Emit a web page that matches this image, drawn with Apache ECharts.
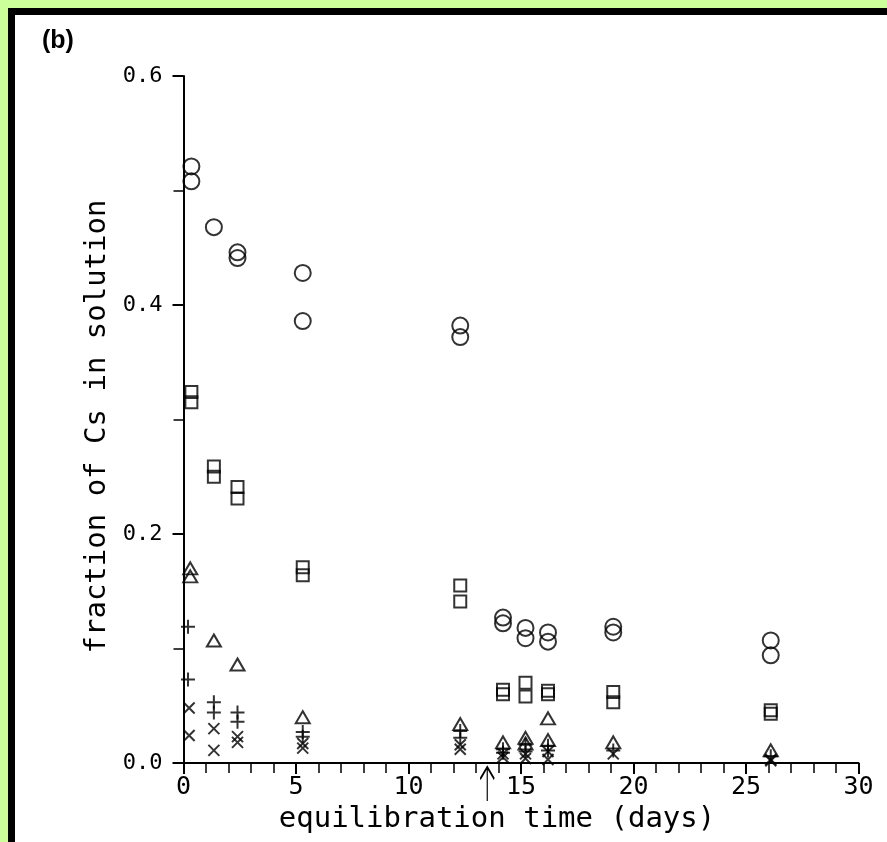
<!DOCTYPE html>
<html>
<head>
<meta charset="utf-8">
<script src="https://cdn.jsdelivr.net/npm/echarts@6/dist/echarts.min.js"></script>
<style>
  html, body { margin: 0; padding: 0; background: #ccff99; }
  #frame {
    position: absolute; left: 8px; top: 8px; width: 872px; height: 827px;
    border-left: 7px solid #000; border-top: 7px solid #000; background: #fff;
  }
  #chart { position: absolute; left: 0; top: 0; width: 887px; height: 842px; }
</style>
</head>
<body>
<div id="frame"></div>
<div id="chart"></div>
<script>
// equilibration time (days) and fraction of Cs in solution, per symbol
const circleDays = [0.35, 0.35, 1.35, 2.4, 2.4, 5.3, 5.3, 12.3, 12.3, 14.2, 14.2, 15.2, 15.2, 16.2, 16.2, 19.1, 19.1, 26.1, 26.1]
const circleVals = [0.521, 0.508, 0.468, 0.446, 0.441, 0.428, 0.386, 0.382, 0.372, 0.127, 0.122, 0.118, 0.109, 0.114, 0.106, 0.119, 0.114, 0.107, 0.094]

const squareDays = [0.35, 0.35, 1.35, 1.35, 2.4, 2.4, 5.3, 5.3, 12.3, 12.3, 14.2, 14.2, 15.2, 15.2, 16.2, 16.2, 19.1, 19.1, 26.1, 26.1]
const squareVals = [0.324, 0.315, 0.259, 0.250, 0.241, 0.231, 0.171, 0.164, 0.155, 0.141, 0.064, 0.060, 0.070, 0.058, 0.063, 0.060, 0.062, 0.053, 0.046, 0.043]

const triangleDays = [0.3, 0.3, 1.35, 2.4, 5.3, 12.3, 14.2, 15.2, 15.2, 16.2, 16.2, 19.1, 26.1]
const triangleVals = [0.170, 0.163, 0.107, 0.086, 0.040, 0.034, 0.018, 0.022, 0.017, 0.039, 0.020, 0.018, 0.011]

const plusDays = [0.2, 0.2, 1.35, 1.35, 2.4, 2.4, 5.3, 5.3, 12.3, 12.3, 14.2, 14.2, 15.2, 15.2, 16.2, 16.2, 19.1, 26.1]
const plusVals = [0.119, 0.073, 0.053, 0.044, 0.044, 0.036, 0.027, 0.023, 0.028, 0.022, 0.012, 0.009, 0.016, 0.010, 0.015, 0.011, 0.011, 0.006]

const crossDays = [0.25, 0.25, 1.35, 1.35, 2.4, 2.4, 5.3, 5.3, 12.3, 12.3, 14.2, 14.2, 15.2, 15.2, 16.2, 16.2, 19.1, 26.1, 26.1]
const crossVals = [0.048, 0.024, 0.030, 0.011, 0.023, 0.018, 0.017, 0.013, 0.016, 0.012, 0.008, 0.005, 0.008, 0.004, 0.010, 0.003, 0.008, 0.003, 0.002]

// arrow under the time axis
const arrowDay = 13.5

const MONO = "'DejaVu Sans Mono', monospace"

const zip = (xs, ys) => xs.map((x, i) => [x, ys[i]])

const hollow = { color: 'rgba(0,0,0,0)', borderColor: '#000', borderWidth: 2 }

const chart = echarts.init(document.getElementById('chart'))

chart.setOption({
  backgroundColor: 'transparent',
  animation: false,
  title: {
    text: '(b)',
    left: 37,
    top: 24,
    textStyle: { fontFamily: 'Liberation Sans', fontWeight: 'bold', fontSize: 25, color: '#000' }
  },
  grid: { left: 183.5, right: 28.5, top: 76, bottom: 79 },
  xAxis: {
    type: 'value',
    min: 0,
    max: 30,
    interval: 5,
    name: 'equilibration time (days)',
    nameLocation: 'middle',
    nameGap: 40,
    nameTextStyle: { fontFamily: MONO, fontSize: 29, color: '#000', padding: [0, 48, 0, 0] },
    axisLine: { onZero: false, lineStyle: { color: '#000', width: 2 } },
    axisTick: { length: 11, lineStyle: { color: '#000', width: 2 } },
    minorTick: { show: true, splitNumber: 5, length: 10, lineStyle: { color: '#000', width: 1.5 } },
    splitLine: { show: false },
    axisLabel: { fontFamily: MONO, fontSize: 25, color: '#000', margin: 12 }
  },
  yAxis: {
    type: 'value',
    min: 0,
    max: 0.6,
    interval: 0.2,
    name: 'fraction of Cs in solution',
    nameLocation: 'middle',
    nameGap: 70,
    nameTextStyle: { fontFamily: MONO, fontSize: 29, color: '#000', padding: [0, 14, 0, 0] },
    axisLine: { lineStyle: { color: '#000', width: 2 } },
    axisTick: { length: 11, lineStyle: { color: '#000', width: 2 } },
    minorTick: { show: true, splitNumber: 2, length: 10, lineStyle: { color: '#000', width: 1.5 } },
    splitLine: { show: false },
    axisLabel: {
      fontFamily: MONO, fontSize: 22, color: '#000', margin: 21,
      formatter: (v) => v.toFixed(1)
    }
  },
  series: [
    {
      name: 'circle', type: 'scatter', symbol: 'circle', symbolSize: 16,
      itemStyle: hollow, data: zip(circleDays, circleVals)
    },
    {
      name: 'square', type: 'scatter', symbol: 'rect', symbolSize: 12,
      itemStyle: hollow, data: zip(squareDays, squareVals)
    },
    {
      name: 'triangle', type: 'scatter', symbol: 'triangle', symbolSize: [14, 12],
      itemStyle: hollow, data: zip(triangleDays, triangleVals)
    },
    {
      name: 'plus', type: 'scatter', symbol: 'path://M0,5L10,5M5,0L5,10', symbolSize: 14,
      itemStyle: { color: 'none', borderColor: '#000', borderWidth: 2 },
      data: zip(plusDays, plusVals)
    },
    {
      name: 'cross', type: 'scatter', symbol: 'path://M0,0L10,10M10,0L0,10', symbolSize: 11,
      itemStyle: { color: 'none', borderColor: '#000', borderWidth: 2 },
      data: zip(crossDays, crossVals),
      markPoint: {
        silent: true,
        symbol: 'path://M6,0L6,34M0,12L6,0L12,12',
        symbolSize: [14, 34],
        symbolOffset: [0, 21],
        itemStyle: { color: 'none', borderColor: '#000', borderWidth: 1.8 },
        label: { show: false },
        data: [{ coord: [arrowDay, 0] }]
      }
    }
  ]
})
</script>
</body>
</html>
